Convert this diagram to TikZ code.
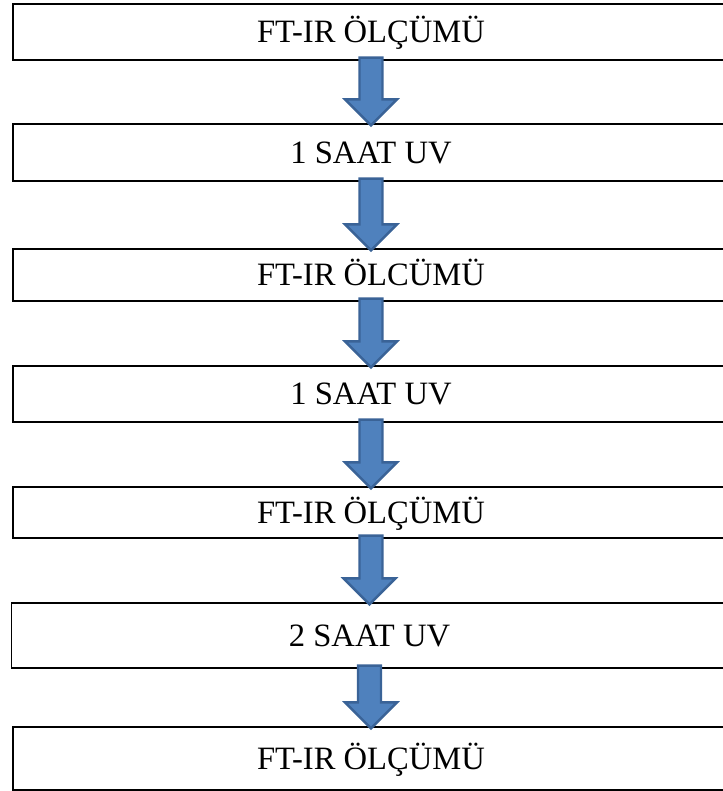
\documentclass[tikz,border=0pt]{standalone}
\usepackage{fontspec}
\setmainfont{Liberation Serif}
\usetikzlibrary{calc}

\definecolor{arrowfill}{HTML}{4F81BD}
\definecolor{arrowline}{HTML}{3A6397}

\begin{document}
\begin{tikzpicture}[x=1pt, y=-1pt,
	box/.style={draw, line width=1.2pt, rectangle, inner sep=0pt, minimum width=716pt,
		text height=21.5pt, text depth=0pt, font=\fontsize{32.6}{38}\selectfont},
	blockarrow/.style={fill=arrowfill, draw=arrowline, line width=2.4pt, line join=miter}]
	\useasboundingbox (0,0) rectangle (722,791);

	\node [box, minimum height=56pt] (b1) at (371,32) {FT-IR ÖLÇÜMÜ};
	\node [box, minimum height=57pt] (b2) at (371,152.5) {1 SAAT UV};
	\node [box, minimum height=52pt] (b3) at (371,275) {FT-IR ÖLCÜMÜ};
	\node [box, minimum height=56pt] (b4) at (371,394) {1 SAAT UV};
	\node [box, minimum height=51pt] (b5) at (371,512.5) {FT-IR ÖLÇÜMÜ};
	\node [box, minimum height=65pt] (b6) at (369.5,635.5) {2 SAAT UV};
	\node [box, minimum height=63pt] (b7) at (371,758.5) {FT-IR ÖLÇÜMÜ};

	\foreach \a/\b in {b1/b2, b2/b3, b3/b4, b4/b5, b5/b6, b6/b7}
		\draw [blockarrow] ($(\a.south)+(-11.5,-3)$) -- ($(\a.south)+(11.5,-3)$)
			|- ($(\b.north)+(26,-24)$) -- ($(\b.north)+(0,2)$)
			-- ($(\b.north)+(-26,-24)$) -| cycle;
\end{tikzpicture}
\end{document}
